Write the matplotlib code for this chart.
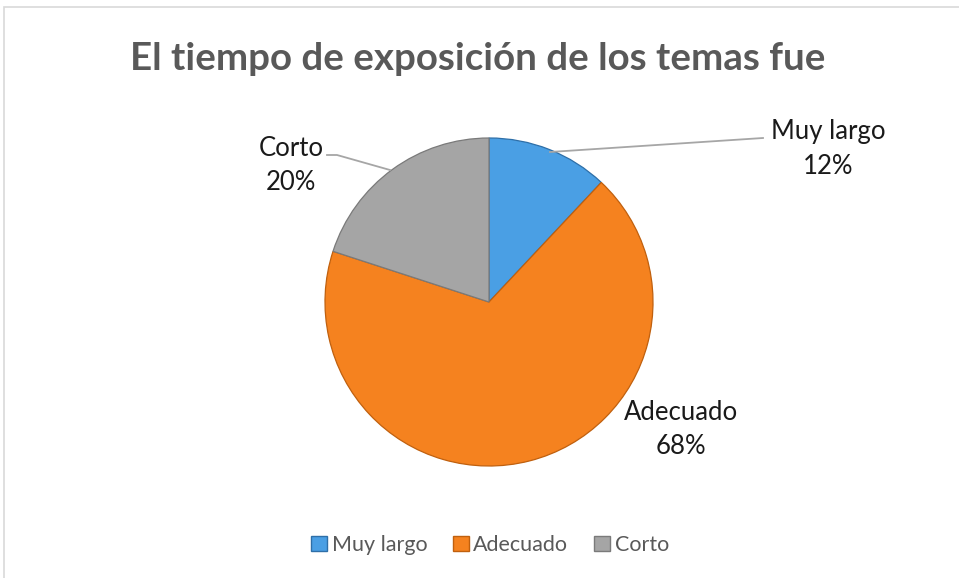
import matplotlib
matplotlib.use("Agg")
import matplotlib.pyplot as plt
from matplotlib.patches import Rectangle, Patch

categories = ["Muy largo", "Adecuado", "Corto"]
values = [12, 68, 20]
colors = ["#4A9FE4", "#F5821F", "#A5A5A5"]
edges = ["#2E6FA8", "#C0600E", "#7A7A7A"]
title = "El tiempo de exposición de los temas fue"

W, H = 959, 578
fig = plt.figure(figsize=(W / 100, H / 100), dpi=100)
ax = fig.add_axes([0, 0, 1, 1])

# chart border
fig.patches.append(Rectangle((4 / W, -0.01), 1.1, (H - 7) / H + 0.01, transform=fig.transFigure,
                             fill=False, edgecolor="#D9D9D9", linewidth=1.2))

fam = ["Lato", "DejaVu Sans"]
cx, cy, r = 489, H - 302, 164
wedges, _ = ax.pie(values, colors=colors, startangle=90, counterclock=False,
                   center=(cx, cy), radius=r, frame=True,
                   wedgeprops=dict(linewidth=0.9))
for w, e in zip(wedges, edges):
    w.set_edgecolor(e)
ax.set_xlim(0, W)
ax.set_ylim(0, H)
ax.set_aspect("equal")
ax.axis("off")

ax.text(478, H - 59, title, ha="center", va="center", fontsize=27.7,
        fontweight="bold", color="#595959", family=fam)

total = sum(values)
pct = [f"{round(v / total * 100)}%" for v in values]
lab_pos = [(828, H - 149), (681, H - 430), (291, H - 165)]
for (x, y), c, p in zip(lab_pos, categories, pct):
    ax.text(x, y, f"{c}\n{p}", ha="center", va="center", fontsize=18.5,
            color="#1a1a1a", family=fam, linespacing=1.45)

# leader lines
ax.plot([550, 763], [H - 152, H - 138], color="#A6A6A6", lw=1.3)
ax.plot([390, 337, 327], [H - 170, H - 155, H - 155], color="#A6A6A6", lw=1.3)

handles = [Patch(facecolor=c, edgecolor=e, label=l) for c, e, l in zip(colors, edges, categories)]
leg = fig.legend(handles=handles, loc="center", bbox_to_anchor=(490 / W, 1 - 545 / H),
                 ncol=3, frameon=False, prop={"family": fam, "size": 15.5},
                 handlelength=0.75, handleheight=0.65, handletextpad=0.2, columnspacing=1.2)
for t in leg.get_texts():
    t.set_color("#595959")

fig.savefig("out.png", dpi=100, facecolor="white")
